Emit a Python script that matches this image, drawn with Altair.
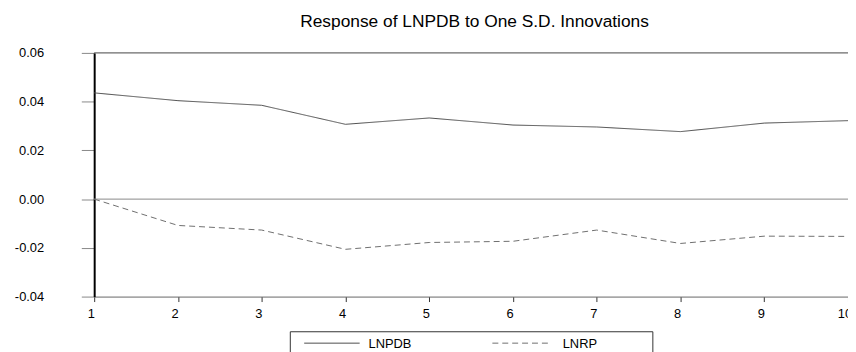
import altair as alt
import pandas as pd

periods = [1, 2, 3, 4, 5, 6, 7, 8, 9, 10]
lnpdb = [0.0436, 0.0404, 0.0385, 0.0307, 0.0333, 0.0304, 0.0296, 0.0277, 0.0312, 0.0322]
lnrp = [0.0, -0.0108, -0.0127, -0.0206, -0.0178, -0.0173, -0.0127, -0.0182, -0.0152, -0.0153]
series_names = ["LNPDB", "LNRP"]
y_ticks = [-0.04, -0.02, 0.0, 0.02, 0.04, 0.06]
title_text = "Response of LNPDB to One S.D. Innovations"

FONT = "Liberation Sans"

df = pd.DataFrame({
    "period": periods * 2,
    "value": lnpdb + lnrp,
    "series": [series_names[0]] * len(periods) + [series_names[1]] * len(periods),
})

x_scale = alt.Scale(domain=[1, 10], nice=False, zero=False)
y_scale = alt.Scale(domain=[-0.04, 0.06], nice=False, zero=False)

x_axis = alt.Axis(values=periods, format="d", title=None, grid=False,
                  domainColor="#666666", domainWidth=1,
                  tickColor="#333333", tickSize=5, tickWidth=1,
                  labelFont=FONT, labelFontSize=13, labelColor="black",
                  labelPadding=6, labelOffset=-3.5, labelFlush=False)
y_axis = alt.Axis(values=y_ticks, title=None, grid=False,
                  labelExpr="replace(format(datum.value, '.2f'), '\u2212', '-')",
                  domainColor="black", domainWidth=2,
                  tickColor="#888888", tickSize=13, tickWidth=1,
                  labelFont=FONT, labelFontSize=13, labelColor="black",
                  labelPadding=38, labelFlush=False)

lines = alt.Chart(df).mark_line(strokeWidth=1).encode(
    x=alt.X("period:Q", scale=x_scale, axis=x_axis),
    y=alt.Y("value:Q", scale=y_scale, axis=y_axis),
    color=alt.Color("series:N", scale=alt.Scale(domain=series_names, range=["#4d4d4d", "#6e6e6e"]), legend=None),
    strokeDash=alt.StrokeDash("series:N", scale=alt.Scale(domain=series_names, range=[[1, 0], [6, 4]]), legend=None),
)

zero_df = pd.DataFrame({"y": [0.0]})
zero_line = alt.Chart(zero_df).mark_rule(color="#888888", strokeWidth=1).encode(
    y=alt.Y("y:Q", scale=y_scale)
)

top_frame = alt.Chart(zero_df).mark_rule(color="#444444", strokeWidth=1).encode(
    y=alt.value(0), x=alt.value(0), x2=alt.value(761)
)

# legend box
legend_box = alt.Chart(zero_df).mark_rect(fill="white", stroke="#333333", strokeWidth=1).encode(
    x=alt.value(198), x2=alt.value(564), y=alt.value(281.5), y2=alt.value(320)
)
leg_solid = alt.Chart(zero_df).mark_rule(color="#4d4d4d", strokeWidth=1).encode(
    x=alt.value(212), x2=alt.value(268), y=alt.value(293)
)
leg_dash = alt.Chart(zero_df).mark_rule(color="#6e6e6e", strokeWidth=1, strokeDash=[6, 4]).encode(
    x=alt.value(402), x2=alt.value(458), y=alt.value(293)
)
leg_df = pd.DataFrame({"name": series_names})
leg_text1 = alt.Chart(leg_df.iloc[[0]]).mark_text(
    font=FONT, fontSize=13, align="left", baseline="middle", color="black"
).encode(x=alt.value(277), y=alt.value(294), text="name:N")
leg_text2 = alt.Chart(leg_df.iloc[[1]]).mark_text(
    font=FONT, fontSize=13, align="left", baseline="middle", color="black"
).encode(x=alt.value(473), y=alt.value(294), text="name:N")

chart = alt.layer(
    zero_line, top_frame, lines, legend_box, leg_solid, leg_dash, leg_text1, leg_text2
).properties(
    width=761,
    height=246,
    title=alt.TitleParams(title_text, font=FONT, fontSize=17.5, fontWeight="normal",
                          color="black", anchor="middle", dx=3.5, offset=3,
                          baseline="alphabetic"),
    autosize=alt.AutoSizeParams(type="none"),
    padding={"left": 87, "top": 43.7, "right": 0, "bottom": 54.3},
).configure_view(strokeWidth=0)

chart.save("out.html", embed_options={"renderer": "svg", "actions": False})
